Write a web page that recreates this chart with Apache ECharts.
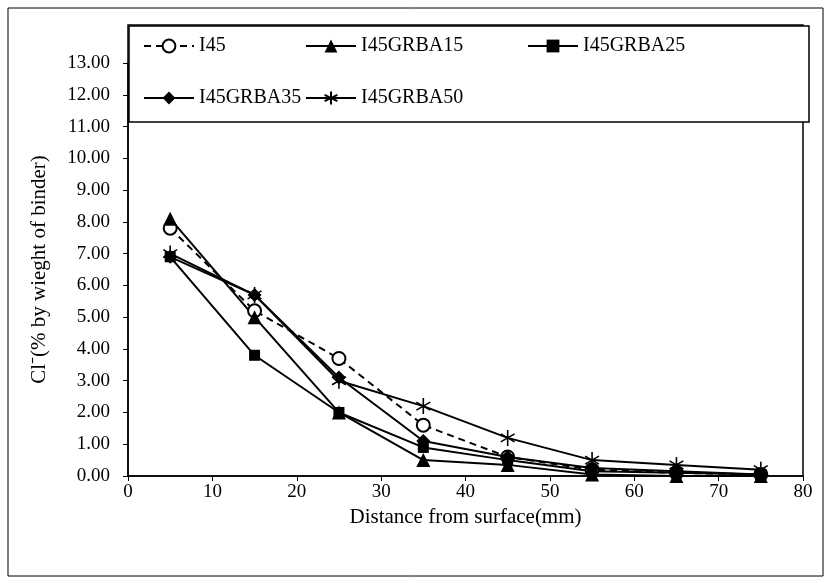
<!DOCTYPE html>
<html>
<head>
<meta charset="utf-8">
<script src="https://cdn.jsdelivr.net/npm/echarts@6/dist/echarts.min.js"></script>
<style>
  html, body { margin: 0; padding: 0; background: #fff; }
  #chart { width: 832px; height: 583px; }
</style>
</head>
<body>
<div id="chart"></div>
<script>
// distance from surface (mm)
var distance = [5, 15, 25, 35, 45, 55, 65, 75];
var seriesNames = ['I45', 'I45GRBA15', 'I45GRBA25', 'I45GRBA35', 'I45GRBA50'];
// Cl- (% by weight of binder)
var i45       = [7.8, 5.2, 3.7, 1.6, 0.6, 0.2, 0.1, 0.05];
var i45grba15 = [8.1, 5.0, 2.0, 0.5, 0.35, 0.05, 0.0, 0.0];
var i45grba25 = [6.9, 3.8, 2.0, 0.9, 0.5, 0.15, 0.1, 0.05];
var i45grba35 = [6.9, 5.7, 3.1, 1.1, 0.6, 0.25, 0.15, 0.05];
var i45grba50 = [7.0, 5.7, 3.0, 2.2, 1.2, 0.5, 0.35, 0.2];
var yTicks = [0, 1, 2, 3, 4, 5, 6, 7, 8, 9, 10, 11, 12, 13];

var font = 'Liberation Serif';
var asterisk = 'path://M0,-10L0,10M-8.66,-5L8.66,5M-8.66,5L8.66,-5';

function pairs(ys) {
    return distance.map(function (x, i) { return [x, ys[i]]; });
}

function makeSeries(name, ys, symbol, size, dashed) {
    return {
        name: name,
        type: 'line',
        data: pairs(ys),
        symbol: symbol,
        symbolSize: size,
        symbolKeepAspect: true,
        lineStyle: { color: '#000', width: 2, type: dashed ? [7, 5] : 'solid' },
        itemStyle: { color: '#000', borderColor: '#000', borderWidth: symbol == 'emptyCircle' || symbol == asterisk ? 1.6 : 0 },
        emphasis: { disabled: true },
        z: 3
    };
}

function legendAt(name, left, top) {
    return {
        data: [name],
        left: left,
        top: top,
        padding: 0,
        itemWidth: 50,
        itemHeight: 16,
        textStyle: { fontFamily: font, fontSize: 20, color: '#000' },
        selectedMode: false,
        z: 20
    };
}

var chart = echarts.init(document.getElementById('chart'));
var option = {
    animation: false,
    backgroundColor: '#fff',
    grid: { left: 128, right: 29, top: 63, bottom: 107 },
    graphic: [
        { type: 'rect', shape: { x: 8, y: 8, width: 815, height: 568 }, style: { fill: 'none', stroke: '#000', lineWidth: 1 }, z: 0 },
        { type: 'rect', shape: { x: 128, y: 25, width: 675, height: 451 }, style: { fill: 'none', stroke: '#000', lineWidth: 1.5 }, z: 1 },
        { type: 'rect', shape: { x: 129, y: 26, width: 680, height: 96 }, style: { fill: '#fff', stroke: '#000', lineWidth: 1.5 }, z: 2 }
    ],
    legend: [
        legendAt('I45', 143, 36),
        legendAt('I45GRBA15', 305, 36),
        legendAt('I45GRBA25', 527, 36),
        legendAt('I45GRBA35', 143, 88),
        legendAt('I45GRBA50', 305, 88)
    ],
    xAxis: {
        type: 'value',
        min: 0,
        max: 80,
        interval: 10,
        name: 'Distance from surface(mm)',
        nameLocation: 'middle',
        nameGap: 30,
        nameTextStyle: { fontFamily: font, fontSize: 21, color: '#000' },
        axisLine: { lineStyle: { color: '#000', width: 1.5 } },
        axisTick: { length: 5, lineStyle: { color: '#000' } },
        axisLabel: { fontFamily: font, fontSize: 19, color: '#000', margin: 7 },
        splitLine: { show: false }
    },
    yAxis: {
        type: 'value',
        min: yTicks[0],
        max: yTicks[yTicks.length - 1],
        interval: 1,
        name: 'Cl\u207B(% by wieght of binder)',
        nameLocation: 'middle',
        nameRotate: 90,
        nameGap: 78,
        nameTextStyle: { fontFamily: font, fontSize: 21, color: '#000' },
        axisLine: { show: true, lineStyle: { color: '#000', width: 1.5 } },
        axisTick: { show: true, length: 5, lineStyle: { color: '#000' } },
        axisLabel: { fontFamily: font, fontSize: 19, color: '#000', margin: 18, formatter: function (v) { return v.toFixed(2); } },
        splitLine: { show: false }
    },
    series: [
        makeSeries(seriesNames[0], i45, 'emptyCircle', 13, true),
        makeSeries(seriesNames[1], i45grba15, 'triangle', 14, false),
        makeSeries(seriesNames[2], i45grba25, 'rect', 11, false),
        makeSeries(seriesNames[3], i45grba35, 'diamond', 14, false),
        makeSeries(seriesNames[4], i45grba50, asterisk, 16, false)
    ]
};
chart.setOption(option);
</script>
</body>
</html>
